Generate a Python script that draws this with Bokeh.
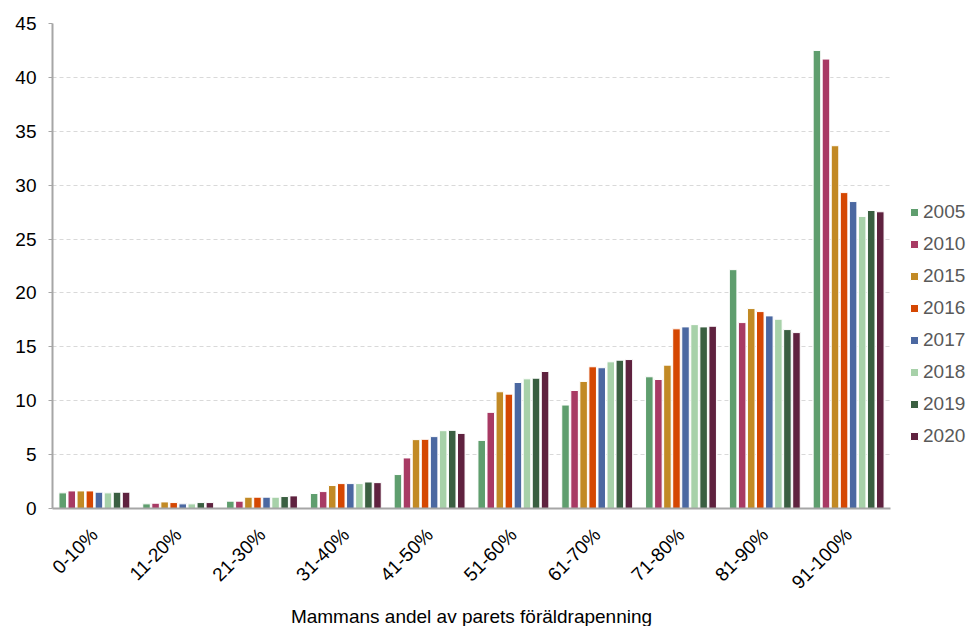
from bokeh.plotting import figure
from bokeh.models import ColumnDataSource, Legend, LegendItem, FixedTicker
from bokeh.transform import dodge
from bokeh.embed import file_html
from bokeh.resources import INLINE
import math

categories = ["0-10%", "11-20%", "21-30%", "31-40%", "41-50%",
              "51-60%", "61-70%", "71-80%", "81-90%", "91-100%"]
years = ["2005", "2010", "2015", "2016", "2017", "2018", "2019", "2020"]

v2005 = [1.45, 0.43, 0.68, 1.39, 3.15, 6.32, 9.6, 12.22, 22.16, 42.5]
v2010 = [1.63, 0.49, 0.68, 1.57, 4.69, 8.92, 10.95, 11.97, 17.25, 41.7]
v2015 = [1.63, 0.61, 1.05, 2.13, 6.39, 10.83, 11.79, 13.3, 18.55, 33.66]
v2016 = [1.63, 0.55, 1.05, 2.31, 6.42, 10.61, 13.15, 16.67, 18.27, 29.31]
v2017 = [1.51, 0.43, 1.05, 2.31, 6.67, 11.69, 13.06, 16.85, 17.87, 28.48]
v2018 = [1.45, 0.43, 1.05, 2.31, 7.22, 12.03, 13.61, 17.06, 17.56, 27.1]
v2019 = [1.51, 0.55, 1.11, 2.46, 7.25, 12.09, 13.76, 16.85, 16.6, 27.65]
v2020 = [1.51, 0.55, 1.17, 2.4, 6.97, 12.71, 13.82, 16.91, 16.32, 27.53]

series = [v2005, v2010, v2015, v2016, v2017, v2018, v2019, v2020]
colors = ["#5f9e6e", "#a83a64", "#c28a25", "#d54702", "#4b68a1",
          "#a7d1a9", "#3a5f41", "#5f223f"]

y_ticks = [0, 5, 10, 15, 20, 25, 30, 35, 40, 45]

data = {"cat": categories}
for y, s in zip(years, series):
    data["y" + y] = s
source = ColumnDataSource(data)

p = figure(x_range=categories, y_range=(0, 45),
           frame_width=838, frame_height=485,
           output_backend="svg", toolbar_location=None,
           min_border_left=52, min_border_right=0,
           min_border_top=23, min_border_bottom=100)

step = 0.108
renderers = []
for i, (y, c) in enumerate(zip(years, colors)):
    r = p.vbar(x=dodge("cat", (i - 3.5) * step, range=p.x_range),
               top="y" + y, width=0.09, source=source,
               fill_color=c, line_color="white", line_width=1)
    renderers.append((y, r))

legend = Legend(items=[LegendItem(label=y, renderers=[r]) for y, r in renderers],
                location=(19, 60), glyph_width=10, glyph_height=10,
                label_height=24, spacing=8, label_text_font="Liberation Sans",
                label_text_font_size="19px", label_text_color="#595959",
                border_line_color=None, background_fill_alpha=0,
                padding=4, margin=0, label_standoff=4)
p.add_layout(legend, "right")

p.outline_line_color = None
p.xgrid.grid_line_color = None
p.ygrid.grid_line_color = "#d9d9d9"
p.ygrid.grid_line_dash = "4 3"
p.ygrid.grid_line_width = 1

p.yaxis.ticker = FixedTicker(ticks=y_ticks)
p.yaxis.axis_line_color = "#a6a6a6"
p.yaxis.axis_line_width = 2
p.yaxis.major_tick_line_color = "#a6a6a6"
p.yaxis.major_tick_out = 4
p.yaxis.major_tick_in = 0
p.yaxis.minor_tick_line_color = None
p.yaxis.major_label_text_font = "Liberation Sans"
p.yaxis.major_label_text_font_size = "19px"
p.yaxis.major_label_text_color = "#000000"
p.yaxis.major_label_standoff = 12

p.xaxis.axis_line_color = "#a6a6a6"
p.xaxis.axis_line_width = 2
p.xaxis.major_tick_line_color = None
p.xaxis.minor_tick_line_color = None
p.xaxis.major_label_orientation = math.pi / 4
p.xaxis.major_label_text_font = "Liberation Sans"
p.xaxis.major_label_text_font_size = "19px"
p.xaxis.major_label_text_color = "#000000"
p.xaxis.major_label_standoff = 17
p.xaxis.axis_label = "Mammans andel av parets föräldrapenning"
p.xaxis.axis_label_text_font = "Liberation Sans"
p.xaxis.axis_label_text_font_size = "19px"
p.xaxis.axis_label_text_font_style = "normal"
p.xaxis.axis_label_text_color = "#000000"
p.xaxis.axis_label_standoff = 3

p.x_range.range_padding = 0.0

open("out.html", "w").write(file_html(p, INLINE))
